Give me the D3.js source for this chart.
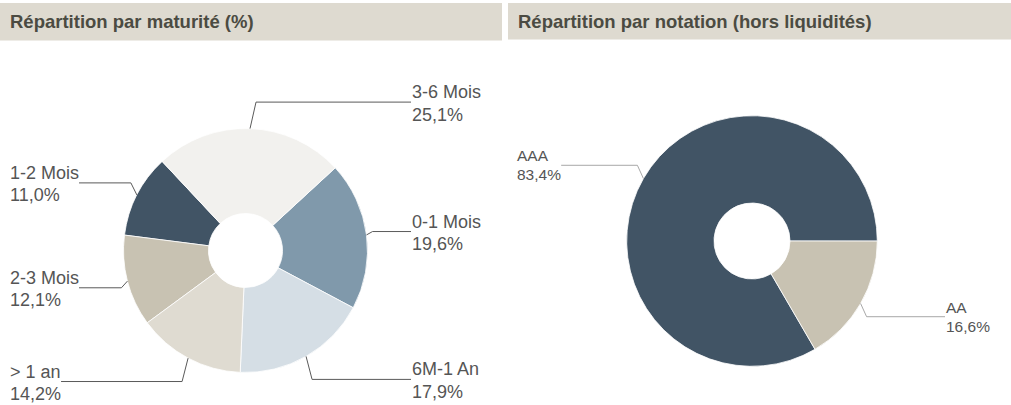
<!DOCTYPE html>
<html>
<head>
<meta charset="utf-8">
<script src="https://cdn.jsdelivr.net/npm/d3@7"></script>
<style>
  body { margin: 0; background: #fff; font-family: "Liberation Sans", Arial, sans-serif; }
</style>
</head>
<body>
<div id="chart"></div>
<script>
// data
var titles = ["Répartition par maturité (%)", "Répartition par notation (hors liquidités)"];
var maturityLabels = ["0-1 Mois", "1-2 Mois", "2-3 Mois", "3-6 Mois", "6M-1 An", "> 1 an"];
var maturityValues = [19.6, 11.0, 12.1, 25.1, 17.9, 14.2];
var maturityColors = ["#8099ab", "#415465", "#c8c2b2", "#f2f1ee", "#d5dee5", "#dfdbd1"];
var ratingLabels = ["AAA", "AA"];
var ratingValues = [83.4, 16.6];
var ratingColors = ["#415465", "#c8c2b2"];

var fr = d3.formatLocale({decimal: ",", thousands: " ", grouping: [3], currency: ["", " €"]});
var pct = fr.format(".1f");

var svg = d3.select("#chart")
  .append("svg")
    .attr("width", 1011)
    .attr("height", 405);

// header bands
var headers = [{x: 0, w: 502, h: 37.5}, {x: 508, w: 503, h: 36.5}];
headers.forEach(function(h, i) {
  svg.append("rect")
    .attr("x", h.x).attr("y", 3)
    .attr("width", h.w).attr("height", h.h)
    .attr("fill", "#dedad0");
  svg.append("text")
    .attr("x", h.x + 10)
    .attr("y", 27.5)
    .attr("font-size", "18.5px")
    .attr("font-weight", "bold")
    .attr("fill", "#4b4b42")
    .text(titles[i]);
});

function donut(o) {
  var data = o.labels.map(function(l, i) { return {label: l, value: o.values[i], color: o.colors[i]}; });
  var pie = d3.pie()
    .value(function(d) { return d.value; })
    .startAngle(o.start)
    .endAngle(o.start + 2 * Math.PI);
  var arcs = pie(data);
  var arc = d3.arc().innerRadius(o.inner).outerRadius(o.r);

  var g = svg.append("g").attr("transform", "translate(" + o.cx + "," + o.cy + ")");

  g.selectAll("path.slice")
    .data(arcs)
    .enter().append("path")
      .attr("class", "slice")
      .attr("d", arc)
      .attr("fill", function(d) { return d.data.color; })
      .attr("stroke", "#fff")
      .attr("stroke-width", 0.8);

  arcs.forEach(function(d) {
    var a = (d.startAngle + d.endAngle) / 2;
    var s = Math.sin(a), c = Math.cos(a);
    var ax = s * o.r, ay = -c * o.r;
    var ly = -c * (o.r + 26.5);
    var right = s >= 0;
    var ex = ax + (right ? 6 : -6);

    var t = g.append("text")
      .attr("x", (right ? o.rightX : o.leftX) - o.cx)
      .attr("y", ly - 4)
      .attr("font-size", o.font + "px")
      .attr("fill", "#555");
    t.append("tspan").text(d.data.label);
    t.append("tspan")
      .attr("x", (right ? o.rightX : o.leftX) - o.cx)
      .attr("dy", o.lh)
      .text(pct(d.data.value) + "%");

    var bb = t.node().getBBox();
    var endX = right ? bb.x - 1 : bb.x + bb.width;

    g.append("path")
      .attr("d", d3.line()([[ax, ay], [ex, ly], [endX, ly]]))
      .attr("fill", "none")
      .attr("stroke", o.lineColor)
      .attr("stroke-width", 1);
  });
}

donut({
  labels: maturityLabels, values: maturityValues, colors: maturityColors,
  cx: 245.5, cy: 250.5, r: 122, inner: 37,
  start: -43.1 * Math.PI / 180,
  leftX: 10, rightX: 412, font: 18, lh: 22.4, lineColor: "#5a5a5a"
});

donut({
  labels: ratingLabels, values: ratingValues, colors: ratingColors,
  cx: 752, cy: 241, r: 125.3, inner: 38,
  start: 149.8 * Math.PI / 180,
  leftX: 517, rightX: 946, font: 15.5, lh: 19.2, lineColor: "#a8a8a8"
});
</script>
</body>
</html>
